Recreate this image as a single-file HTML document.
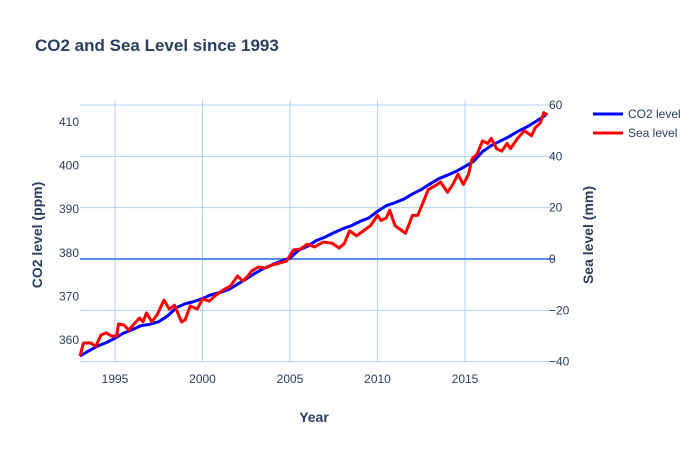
<!DOCTYPE html>
<html><head><meta charset="utf-8"><style>
body{margin:0;background:#fff}
svg{font-family:"Liberation Sans",sans-serif}
</style></head><body>
<svg id="chart" width="700" height="450">
<rect width="700" height="450" fill="#fff"/>
<text x="35" y="51" font-size="17" font-weight="bold" fill="#2a3f5f">CO2 and Sea Level since 1993</text>
<g id="grid"></g><g id="axes"></g><g id="series"></g>
<text x="314" y="422" font-size="14" font-weight="bold" fill="#2a3f5f" text-anchor="middle">Year</text>
<text transform="translate(42,235) rotate(-90)" font-size="14" font-weight="bold" fill="#2a3f5f" text-anchor="middle">CO2 level (ppm)</text>
<text transform="translate(593,235) rotate(-90)" font-size="14" font-weight="bold" fill="#2a3f5f" text-anchor="middle">Sea level (mm)</text>
<g><line x1="593" y1="114" x2="623" y2="114" stroke="#0000ff" stroke-width="3"/><text x="628" y="118" font-size="12" fill="#2a3f5f">CO2 level</text></g>
<g><line x1="593" y1="133" x2="623" y2="133" stroke="#ff0000" stroke-width="3"/><text x="628" y="137" font-size="12" fill="#2a3f5f">Sea level</text></g>
</svg>
<script>
const co2Years=[1993,1993.5,1994,1994.5,1995,1995.5,1996,1996.5,1997,1997.5,1998,1998.5,1999,1999.5,2000,2000.5,2001,2001.5,2002,2002.5,2003,2003.5,2004,2004.5,2005,2005.5,2006,2006.5,2007,2007.5,2008,2008.5,2009,2009.5,2010,2010.5,2011,2011.5,2012,2012.5,2013,2013.5,2014,2014.5,2015,2015.5,2016,2016.5,2017,2017.5,2018,2018.5,2019,2019.5,2019.7];
const co2Values=[356.3,357.5,358.6,359.4,360.4,361.6,362.4,363.3,363.6,364.2,365.5,367.4,368.3,368.8,369.5,370.4,370.9,371.6,372.8,374.0,375.3,376.4,377.3,378.1,378.8,380.6,381.5,382.8,383.6,384.6,385.5,386.2,387.2,388.0,389.5,390.8,391.5,392.3,393.5,394.5,395.8,397.0,397.8,398.7,399.8,401.0,403.2,404.6,405.6,406.6,407.8,408.8,410.0,411.3,412.0];
const seaYears=[1993,1993.2,1993.6,1993.9,1994.2,1994.5,1994.8,1995.1,1995.2,1995.5,1995.8,1996,1996.4,1996.6,1996.8,1997.1,1997.4,1997.8,1998.1,1998.4,1998.8,1999,1999.3,1999.7,2000,2000.4,2000.7,2001.2,2001.6,2002,2002.3,2002.6,2002.8,2003.2,2003.6,2004,2004.4,2004.8,2005.2,2005.6,2006,2006.4,2006.9,2007.4,2007.8,2008.1,2008.4,2008.8,2009.2,2009.6,2010,2010.2,2010.5,2010.7,2011,2011.4,2011.6,2012,2012.3,2012.6,2012.9,2013.4,2013.6,2014,2014.3,2014.6,2014.9,2015.2,2015.4,2015.7,2016,2016.3,2016.5,2016.8,2017.1,2017.4,2017.6,2018,2018.4,2018.8,2019,2019.3,2019.5,2019.7];
const seaValues=[-37.8,-32.7,-32.7,-34,-29.6,-28.8,-30,-30,-25.3,-25.7,-27.7,-26,-23,-24.5,-21,-24.5,-21.8,-16,-19.5,-18,-24.5,-23.8,-18.3,-19.5,-15.6,-16.4,-14.4,-12,-10.5,-6.6,-8.6,-6.6,-4.7,-3.1,-3.5,-2.3,-1.6,-0.8,3.5,3.9,5.8,4.7,6.6,6.2,4.3,6,11,9,11,13,17,15,16,19,13,11,10,17,17,22,27,29,30,26,29,33,29,33,39,41,46,45,47,43,42,45,43,47,50,48,51,53,57,56];
const xTicks=[1995,2000,2005,2010,2015];
const leftTicks=[360,370,380,390,400,410];
const rightTicks=[-40,-20,0,20,40,60];
const X0=80,X1=548,Y0=100,Y1=362;
const xs=y=>115+(y-1995)*17.5;
const yl=v=>340-(v-360)*4.36;
const yr=v=>259-v*2.567;
const NS='http://www.w3.org/2000/svg';
function mk(tag,attrs,parent,text){const e=document.createElementNS(NS,tag);for(const k in attrs)e.setAttribute(k,attrs[k]);if(text!==undefined)e.textContent=text;document.getElementById(parent).appendChild(e);return e;}
xTicks.forEach(t=>{
 const l=mk('line',{x1:xs(t),x2:xs(t),y1:Y0,y2:Y1,stroke:'#b3d1f2','stroke-width':1},'grid');
 
 
 const tx=mk('text',{x:xs(t),y:383,'font-size':12,fill:'#2a3f5f','text-anchor':'middle'},'axes',t);
 
 
});
rightTicks.forEach(t=>{
 const l=mk('line',{x1:X0,x2:X1+7,y1:yr(t),y2:yr(t),stroke:t===0?'#5b8fe3':'#b3d1f2','stroke-width':t===0?2:1},'grid');
 
 
 const tx=mk('text',{x:549,y:yr(t)+4,'font-size':12,fill:'#2a3f5f'},'axes',(t<0?'\u2212'+(-t):t));
 
 
});
leftTicks.forEach(t=>{
 const tx=mk('text',{x:79,y:yl(t)+4,'font-size':12,fill:'#2a3f5f','text-anchor':'end'},'axes',t);
 
 
});
const bl=mk('polyline',{points:co2Years.map((y,i)=>xs(y)+','+yl(co2Values[i])).join(' '),fill:'none',stroke:'#0000ff','stroke-width':3,'stroke-linejoin':'round'},'series');


const rl=mk('polyline',{points:seaYears.map((y,i)=>xs(y)+','+yr(seaValues[i])).join(' '),fill:'none',stroke:'#ff0000','stroke-width':3,'stroke-linejoin':'round'},'series');


</script>
</body></html>
